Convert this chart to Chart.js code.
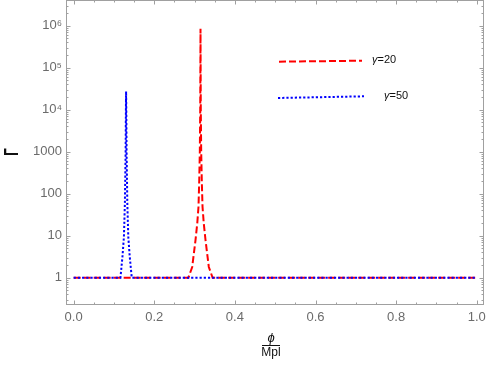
<!DOCTYPE html>
<html>
<head>
<meta charset="utf-8">
<script src="https://cdn.jsdelivr.net/npm/chart.js@4.4.1/dist/chart.umd.min.js"></script>
<style>
html, body { margin: 0; padding: 0; background: #fff; }
#wrap { width: 491px; height: 382px; }
</style>
</head>
<body>
<div id="wrap"><canvas id="gammaChart" width="491" height="382"></canvas></div>
<script>
// values
const seriesLabels = ['γ=20', 'γ=50'];

const redPhi   = [0, 0.2847, 0.2941, 0.3023, 0.3067, 0.3097, 0.3115, 0.3130, 0.3140, 0.3147, 0.3154, 0.3164, 0.3179, 0.3197, 0.3227, 0.3271, 0.3353, 0.3447, 1];
const redGamma = [1, 1, 1.8, 7.9, 20, 49, 200, 1000, 10000, 840000, 10000, 1000, 200, 49, 20, 7.9, 1.8, 1, 1];

const bluePhi   = [0, 0.1161, 0.1211, 0.1247, 0.1271, 0.1289, 0.1296, 0.1301, 0.1306, 0.1313, 0.1331, 0.1355, 0.1391, 0.1441, 1];
const blueGamma = [1, 1, 3.2, 9.5, 60, 1000, 10000, 27000, 10000, 1000, 60, 9.5, 3.2, 1, 1];

const xTickValues = [0, 0.2, 0.4, 0.6, 0.8, 1.0];
const xTickLabels = ['0.0', '0.2', '0.4', '0.6', '0.8', '1.0'];
const yTickValues = [1, 10, 100, 1000, 1e4, 1e5, 1e6];
const yTickLabels = ['1', '10', '100', '1000', '10⁴', '10⁵', '10⁶'];

const FONT = "'Liberation Sans', Arial, sans-serif";

function toPoints(xs, ys) {
    return xs.map((v, i) => ({ x: v, y: ys[i] }));
}

// Mathematica style frame with inward ticks on all four sides
const framePlugin = {
    id: 'frame',
    beforeDatasetsDraw(chart) {
        const { ctx, chartArea: a, scales: { x, y } } = chart;
        ctx.save();
        ctx.strokeStyle = '#a0a0a0';
        ctx.lineWidth = 1;
        ctx.strokeRect(a.left + 0.5, a.top + 0.5, a.right - a.left - 1, a.bottom - a.top - 1);
        ctx.beginPath();
        for (let i = 0; i <= 20; i++) {
            const px = Math.round(x.getPixelForValue(i * 0.05)) + 0.5;
            const len = i % 4 === 0 ? 4.5 : 2.5;
            ctx.moveTo(px, a.bottom); ctx.lineTo(px, a.bottom - len);
            ctx.moveTo(px, a.top); ctx.lineTo(px, a.top + len);
        }
        for (let d = -1; d <= 6; d++) {
            for (let m = 1; m <= 9; m++) {
                const v = m * Math.pow(10, d);
                if (v < y.min || v > y.max) continue;
                const py = Math.round(y.getPixelForValue(v)) + 0.5;
                const len = m === 1 ? 4.5 : 2.5;
                ctx.moveTo(a.left, py); ctx.lineTo(a.left + len, py);
                ctx.moveTo(a.right, py); ctx.lineTo(a.right - len, py);
            }
        }
        ctx.stroke();
        ctx.restore();
    },
    afterDraw(chart) {
        const { ctx } = chart;
        ctx.save();
        // y axis title: Gamma turned on its side
        ctx.fillStyle = '#111';
        ctx.translate(12, 152);
        ctx.rotate(-Math.PI / 2);
        ctx.scale(0.6, 1);
        ctx.font = 'bold 21px ' + FONT;
        ctx.textAlign = 'center';
        ctx.textBaseline = 'middle';
        ctx.fillText('Γ', 0, 0);
        ctx.restore();

        // x axis title as a fraction
        ctx.save();
        ctx.fillStyle = '#111';
        ctx.textAlign = 'center';
        ctx.textBaseline = 'middle';
        ctx.font = 'italic 13px ' + FONT;
        ctx.fillText('ϕ', 271, 338);
        ctx.font = '12px ' + FONT;
        ctx.fillText('Mpl', 271, 353);
        ctx.strokeStyle = '#111';
        ctx.lineWidth = 1;
        ctx.beginPath();
        ctx.moveTo(262, 345.5); ctx.lineTo(280, 345.5);
        ctx.stroke();
        ctx.restore();

        // legend
        const items = [
            { color: '#ff0000', dash: [7, 3], x0: 279, y0: 61.7, x1: 362, y1: 60.7, tx: 372, ty: 60 },
            { color: '#0000ff', dash: [2.2, 2], x0: 278, y0: 98, x1: 364, y1: 96.3, tx: 384, ty: 95.5 }
        ];
        items.forEach((it, i) => {
            ctx.save();
            ctx.strokeStyle = it.color;
            ctx.lineWidth = 2;
            ctx.setLineDash(it.dash);
            ctx.beginPath();
            ctx.moveTo(it.x0, it.y0); ctx.lineTo(it.x1, it.y1);
            ctx.stroke();
            ctx.setLineDash([]);
            ctx.fillStyle = '#111';
            ctx.textBaseline = 'middle';
            ctx.textAlign = 'left';
            const label = seriesLabels[i];
            ctx.font = 'italic 11px ' + FONT;
            ctx.fillText(label[0], it.tx, it.ty);
            const w = ctx.measureText(label[0]).width;
            ctx.font = '11px ' + FONT;
            ctx.fillText(label.slice(1), it.tx + w, it.ty);
            ctx.restore();
        });
    }
};

const ctx = document.getElementById('gammaChart').getContext('2d');
new Chart(ctx, {
    type: 'line',
    data: {
        datasets: [
            {
                label: seriesLabels[0],
                data: toPoints(redPhi, redGamma),
                borderColor: '#ff0000',
                borderWidth: 2,
                borderDash: [7, 3],
                pointRadius: 0,
                tension: 0,
                order: 1
            },
            {
                label: seriesLabels[1],
                data: toPoints(bluePhi, blueGamma),
                borderColor: '#0000ff',
                borderWidth: 2,
                borderDash: [2.2, 2],
                pointRadius: 0,
                tension: 0,
                order: 0
            }
        ]
    },
    options: {
        responsive: false,
        animation: false,
        layout: { padding: { top: 0, right: 7, left: 0, bottom: 0 } },
        plugins: { legend: { display: false }, tooltip: { enabled: false } },
        scales: {
            x: {
                type: 'linear',
                min: -0.019,
                max: 1.018,
                grid: { display: false, drawTicks: false },
                border: { display: false },
                afterBuildTicks: s => { s.ticks = xTickValues.map(v => ({ value: v })); },
                afterFit: s => {
                    s.height = 77;
                    s.paddingLeft = 0; s.paddingRight = 0;
                },
                ticks: {
                    callback: (v, i) => xTickLabels[i],
                    padding: 5,
                    maxRotation: 0,
                    autoSkip: false,
                    color: '#6b6b6b',
                    font: { family: FONT, size: 13 }
                }
            },
            y: {
                type: 'logarithmic',
                min: 0.224,
                max: 4.09e6,
                grid: { display: false, drawTicks: false },
                border: { display: false },
                afterBuildTicks: s => { s.ticks = yTickValues.map(v => ({ value: v })); },
                afterFit: s => {
                    s.width = 66;
                    s.paddingTop = 0; s.paddingBottom = 0;
                },
                ticks: {
                    callback: (v, i) => yTickLabels[i],
                    padding: 4,
                    autoSkip: false,
                    color: '#6b6b6b',
                    font: { family: FONT, size: 13 }
                }
            }
        }
    },
    plugins: [framePlugin]
});
</script>
</body>
</html>
